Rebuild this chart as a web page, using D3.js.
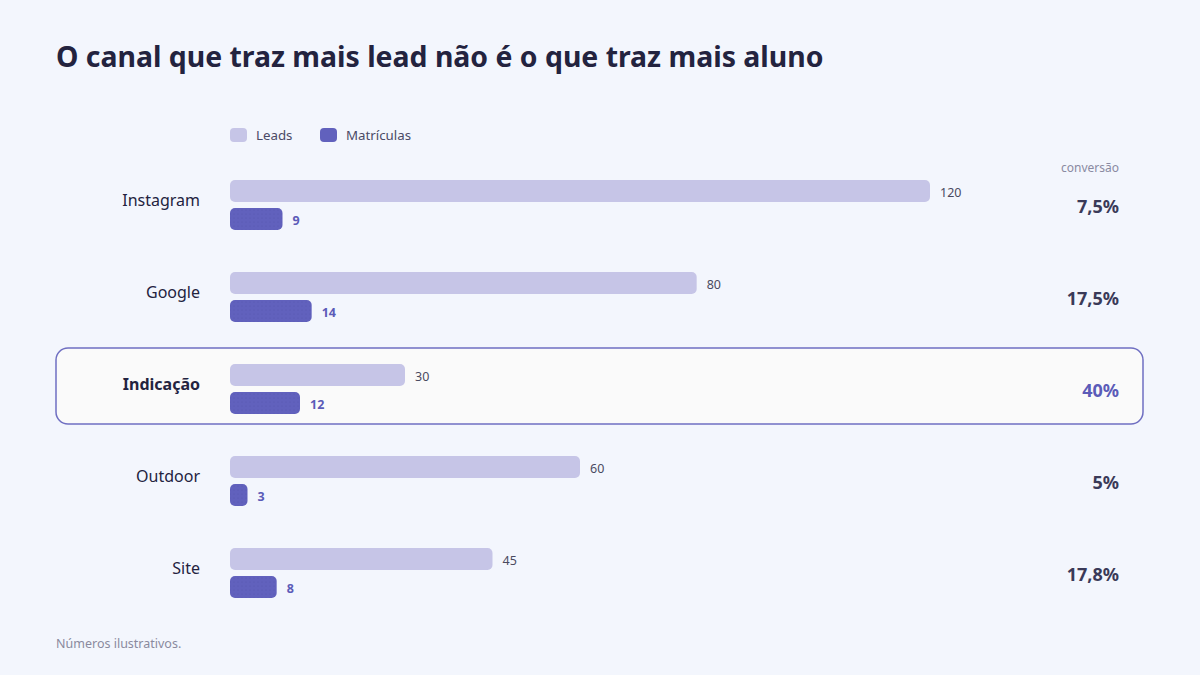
<!DOCTYPE html>
<html><head><meta charset="utf-8">
<script src="https://cdn.jsdelivr.net/npm/d3@7"></script>
<style>
html,body{margin:0;padding:0;background:#f3f6fd;}
svg{display:block;font-family:"Noto Sans","Open Sans",sans-serif;}
</style></head><body>
<svg id="chart" width="1200" height="675"></svg>
<script>
const categories = ["Instagram","Google","Indicação","Outdoor","Site"];
const leads = [120, 80, 30, 60, 45];
const matriculas = [9, 14, 12, 3, 8];
const highlight = "Indicação";
const seriesNames = ["Leads","Matrículas"];
const title = "O canal que traz mais lead não é o que traz mais aluno";
const footnote = "Números ilustrativos.";

const colLeads = "#c6c5e7", colMat = "#6161bd", dark = "#23233f";
const svg = d3.select("#chart");
svg.append("rect").attr("width",1200).attr("height",675).attr("fill","#f3f6fd");

const defs = svg.append("defs");
const pat = defs.append("pattern").attr("id","dots").attr("width",4).attr("height",4).attr("patternUnits","userSpaceOnUse");
pat.append("rect").attr("width",4).attr("height",4).attr("fill",colMat);
pat.append("circle").attr("cx",2).attr("cy",2).attr("r",0.6).attr("fill","#5555ad");

svg.append("text").attr("x",56).attr("y",67).attr("font-size",28.4).attr("font-weight",700)
  .attr("fill",dark).text(title);

// legend
const lg = svg.append("g");
seriesNames.forEach((n,i)=>{
  const x0 = [230,320][i];
  lg.append("rect").attr("x",x0).attr("y",128).attr("width",17).attr("height",14).attr("rx",4)
    .attr("fill", i===0?colLeads:colMat);
  lg.append("text").attr("x",x0+26).attr("y",140).attr("font-size",13.3).attr("fill","#4a4a66").text(n);
});

const x = d3.scaleLinear().domain([0,120]).range([230,930]);
const y = d3.scaleBand().domain(categories).range([170,630]).paddingInner(0).paddingOuter(0);
const barH = 22, gap = 6;
const rowTop = c => y(c)+10;

// highlight box
const hy = rowTop(highlight);
svg.append("rect").attr("x",56).attr("y",hy-16).attr("width",1087).attr("height",76).attr("rx",12)
  .attr("fill","#fafafa").attr("stroke","#6f6fc2").attr("stroke-width",1.5);

svg.append("text").attr("x",1119).attr("y",172).attr("text-anchor","end").attr("font-size",12)
  .attr("fill","#8a8aa2").text("conversão");

const fmt = v => { const r = Math.round(v*10)/10; return (Number.isInteger(r)? String(r) : r.toFixed(1)).replace(".",",") + "%"; };

categories.forEach((c,i)=>{
  const t = rowTop(c);
  const hl = c===highlight;
  const g = svg.append("g");
  g.append("text").attr("x",200).attr("y",t+26).attr("text-anchor","end").attr("font-size",16)
    .attr("font-weight", hl?700:400).attr("fill",dark).text(c);
  g.append("rect").attr("x",x(0)).attr("y",t).attr("width",x(leads[i])-x(0)).attr("height",barH).attr("rx",5)
    .attr("fill",colLeads);
  g.append("text").attr("x",x(leads[i])+10).attr("y",t+16.5).attr("font-size",12.5).attr("fill","#4a4a60").text(leads[i]);
  g.append("rect").attr("x",x(0)).attr("y",t+barH+gap).attr("width",x(matriculas[i])-x(0)).attr("height",barH).attr("rx",5)
    .attr("fill","url(#dots)");
  g.append("text").attr("x",x(matriculas[i])+10).attr("y",t+barH+gap+16.5).attr("font-size",12.5).attr("font-weight",700)
    .attr("fill","#5b5bb8").text(matriculas[i]);
  g.append("text").attr("x",1119).attr("y",t+33).attr("text-anchor","end").attr("font-size",18).attr("font-weight",700)
    .attr("fill", hl?"#5b5bb8":"#3a3a58").text(fmt(matriculas[i]/leads[i]*100));
});

svg.append("text").attr("x",56).attr("y",648).attr("font-size",12.5).attr("fill","#8a8a9e").text(footnote);
</script>
</body></html>
